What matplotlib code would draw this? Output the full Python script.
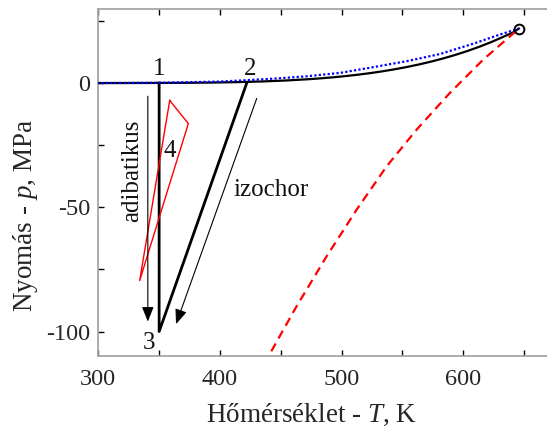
import matplotlib
matplotlib.use("Agg")
import matplotlib.pyplot as plt
from matplotlib.patches import FancyArrowPatch

plt.rcParams['font.family'] = ['Liberation Serif', 'DejaVu Serif']
plt.rcParams['mathtext.fontset'] = 'custom'
plt.rcParams['mathtext.rm'] = 'Liberation Serif'
plt.rcParams['mathtext.it'] = 'Liberation Serif:italic'

# ---- data ----
# saturation curve (black solid)
sat_T = [273.16, 293.15, 313.15, 333.15, 353.15, 373.15, 393.15, 413.15, 433.15,
         453.15, 473.15, 483.15, 493.15, 503.15, 513.15, 523.15, 533.15, 543.15,
         553.15, 563.15, 573.15, 583.15, 593.15, 603.15, 613.15, 623.15, 633.15,
         641.0, 645.6]
sat_p = [0.000612, 0.00234, 0.00738, 0.0199, 0.0474, 0.1014, 0.1985, 0.3615, 0.6180,
         1.0028, 1.5549, 1.9077, 2.3196, 2.7971, 3.3469, 3.9762, 4.6923, 5.5030,
         6.4166, 7.4418, 8.5879, 9.8651, 11.284, 12.858, 14.601, 16.529, 18.666,
         20.4, 21.9]
# blue dotted curve
vap_T = [273.16, 300, 350, 400, 420, 445, 471, 499, 526, 553.5, 581, 608, 630, 639, 645.6]
vap_p = [0.0, 0.0, 0.1, 0.6, 1.1, 1.8, 2.7, 4.1, 6.4, 8.8, 11.7, 15.8, 19.5, 20.9, 21.9]
# red dashed curve
liq_T = [436.0, 440.6, 463.0, 487.7, 512.4, 537.0, 561.7, 589.1, 616.5, 638.4, 645.6]
liq_p = [-113.0, -109.3, -89.8, -69.7, -50.9, -33.5, -18.7, -3.9, 9.5, 18.8, 21.9]
# critical point
crit_T = [645.6]
crit_p = [21.9]
# cycle 1-3-2 (black thick)
cyc_T = [350, 350, 422]
cyc_p = [0, -100, 0]
# red triangle
tri_T = [358.7, 374.0, 334.0, 358.7]
tri_p = [-7.0, -16.3, -79.5, -7.0]
# arrows (start T, start p, end T, end p)
arr_adiab = (340.7, -5.3, 340.7, -96.0)
arr_izoch = (430.2, -6.2, 363.9, -97.0)
# labels
point_labels = ['1', '2', '3', '4']
point_T = [350.0, 425.0, 342.0, 358.4]
point_p = [5.8, 5.8, -104.5, -27.2]

xticks = [300, 350, 400, 450, 500, 550, 600, 650, 700]
xticklabels = ['300', '', '400', '', '500', '', '600', '', '']
yticks = [-100, -75, -50, -25, 0, 25]
yticklabels = ['-100', '', '-50', '', '0', '']

W, H = 547, 430
fig = plt.figure(figsize=(W / 100, H / 100), dpi=100)
left_px, top_px, bottom_px = 98.3, 8.5, 356.4
pxT = 1.2167
ax = fig.add_axes([left_px / W, (H - bottom_px) / H, 400 * pxT / W, (bottom_px - top_px) / H])

ax.plot(sat_T, sat_p, color='black', lw=1.6, zorder=3)
ax.plot(vap_T, vap_p, color='#0000ff', lw=1.6, ls=(0, (1, 1)), zorder=4)
ax.plot(liq_T, liq_p, color='#ff0000', lw=1.6, ls=(0, (4, 2.6)), zorder=5)
ax.plot(crit_T, crit_p, 'o', mfc='none', mec='black', ms=7, mew=1.4, zorder=6)
ax.plot(cyc_T, cyc_p, color='black', lw=2.0, zorder=3)
ax.plot(tri_T, tri_p, color='#ff0000', lw=1.0, zorder=4)

for (x0, y0, x1, y1) in (arr_adiab, arr_izoch):
    ax.add_patch(FancyArrowPatch((x0, y0), (x1, y1), arrowstyle='-|>,head_length=9,head_width=3.6',
                                 mutation_scale=1, lw=0.8, color='black', zorder=5,
                                 shrinkA=0, shrinkB=0))

for s, t, p in zip(point_labels, point_T, point_p):
    ax.text(t, p, s, fontsize=18, ha='center', va='center', color='#111111', zorder=7)

ax.text(327.6, -35.5, 'adibatikus', fontsize=18, rotation=90, ha='center', va='center', color='#111111')
ax.text(442.0, -43.0, 'izochor', fontsize=18, ha='center', va='center', color='#111111')

ax.set_xlim(300, 700)
ax.set_ylim(-110, 30)
ax.set_xticks(xticks)
ax.set_xticklabels(xticklabels)
ax.set_yticks(yticks)
ax.set_yticklabels(yticklabels)
ax.tick_params(direction='in', length=4.5, width=1.0, color='black', labelsize=17.5,
               labelcolor='#262626', top=True, right=True)
ax.tick_params(axis='x', pad=9)
ax.tick_params(axis='y', pad=6)
for sp in ax.spines.values():
    sp.set_color('#a6a6a6')
    sp.set_linewidth(1.3)

fig.text(32.3 / W, 1 - 215 / H, r'Nyomás - $\mathit{p}$, MPa', fontsize=19.5, rotation=90,
         rotation_mode='anchor', ha='center', va='baseline', color='#262626')
fig.text(312 / W, (H - 421.7) / H, r'Hőmérséklet - $\mathit{T}$, K', fontsize=19.5,
         ha='center', va='baseline', color='#262626')

fig.savefig('out.png', dpi=100)
